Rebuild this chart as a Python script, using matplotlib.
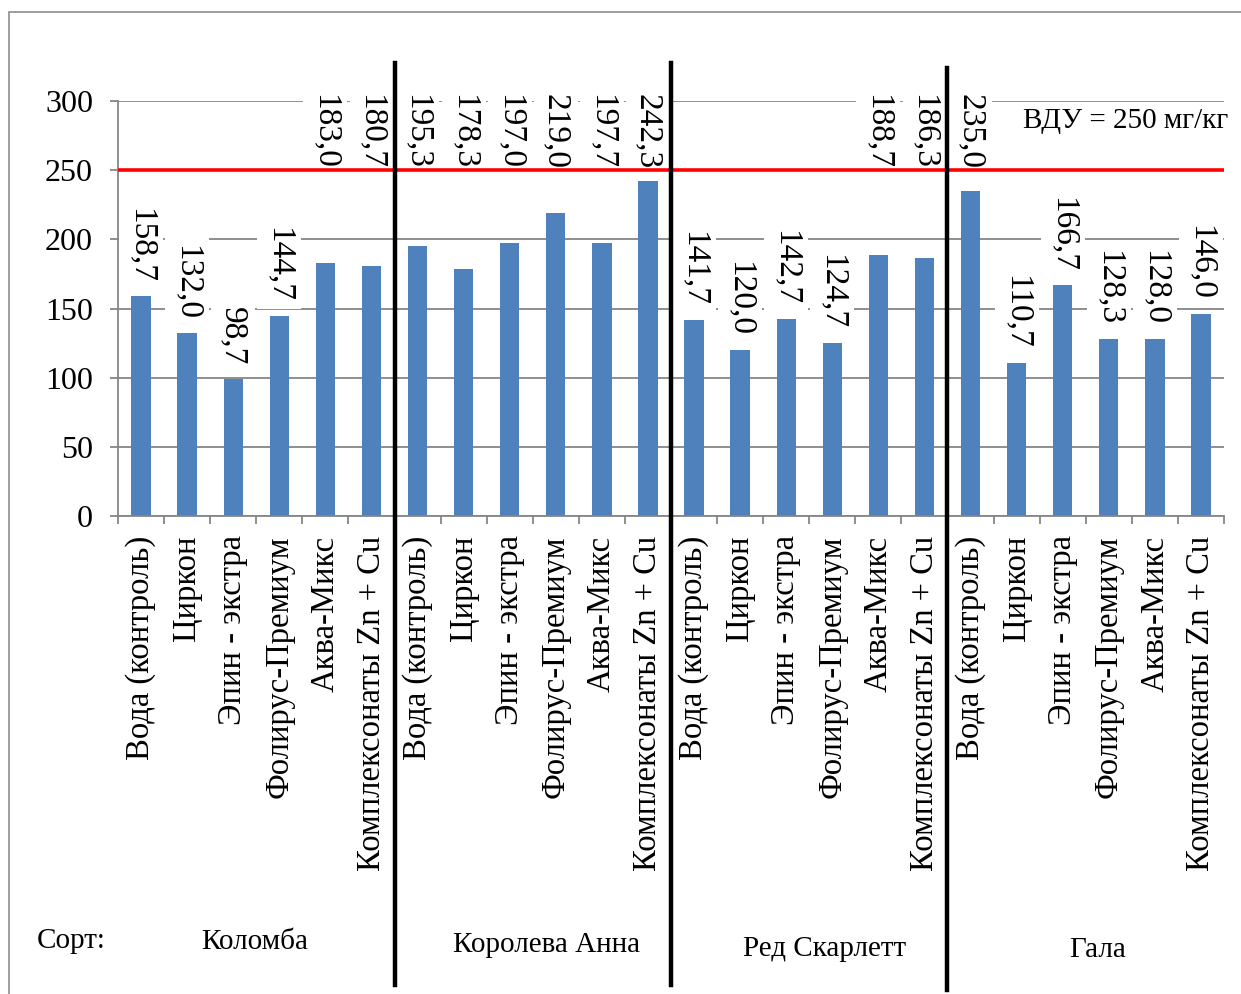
import matplotlib
matplotlib.use("Agg")
import matplotlib.pyplot as plt
import numpy as np
from matplotlib.lines import Line2D
from matplotlib.patches import Rectangle
from matplotlib.transforms import blended_transform_factory

plt.rcParams["font.family"] = ["Liberation Serif", "DejaVu Serif"]

# Treatments (repeated for every variety)
treatments = ["Вода (контроль)", "Циркон", "Эпин - экстра",
              "Фолирус-Премиум", "Аква-Микс", "Комплексонаты Zn + Cu"]
varieties = ["Коломба", "Королева Анна", "Ред Скарлетт", "Гала"]
variety_caption = "Сорт:"

# Nitrate content, mg/kg
kolomba = [158.7, 132.0, 98.7, 144.7, 183.0, 180.7]
koroleva_anna = [195.3, 178.3, 197.0, 219.0, 197.7, 242.3]
red_scarlett = [141.7, 120.0, 142.7, 124.7, 188.7, 186.3]
gala = [235.0, 110.7, 166.7, 128.3, 128.0, 146.0]

limit_value = 250
limit_label = "ВДУ = 250 мг/кг"
y_ticks = [0, 50, 100, 150, 200, 250, 300]

W, H = 1241, 994
fig = plt.figure(figsize=(W / 100, H / 100), dpi=100)
fig.patch.set_facecolor("white")


def fx(px):
    return px / W


def fy(py):
    return 1 - py / H


ax = fig.add_axes([fx(118), fy(516), fx(1224) - fx(118), (516 - 101) / H])

values = kolomba + koroleva_anna + red_scarlett + gala
labels = treatments * len(varieties)
x = np.arange(len(values))

grid_col = "#868686"
ax.bar(x, values, width=0.42, color="#4F81BD", zorder=2)
ax.set_xlim(-0.5, len(values) - 0.5)
ax.set_ylim(0, 300)
ax.set_yticks(y_ticks)
ax.yaxis.grid(True, color=grid_col, lw=1.3)
ax.set_axisbelow(True)
for side in ("top", "right"):
    ax.spines[side].set_visible(False)
for side in ("left", "bottom"):
    ax.spines[side].set_color(grid_col)
    ax.spines[side].set_linewidth(1.3)

ax.set_xticks(x)
ax.set_xticklabels(labels, rotation=90, fontsize=23.5)
ax.set_xticks(np.arange(-0.5, len(values), 1), minor=True)
ax.tick_params(axis="x", which="major", length=0, pad=14)
ax.tick_params(axis="x", which="minor", length=6, color=grid_col, width=1.3)
ax.tick_params(axis="y", length=6, color=grid_col, width=1.3, pad=12,
               labelsize=23)

# Value labels: tall bars get their label pinned to the top of the plot
for xi, v in zip(x, values):
    s = f"{v:.1f}".replace(".", ",")
    box = dict(boxstyle="square,pad=0.2", fc="white", ec="none")
    if v > 170:
        ax.annotate(s, (xi, 300), xytext=(0, 5), textcoords="offset points",
                    rotation=270, ha="center", va="top", fontsize=24,
                    bbox=box, zorder=3, annotation_clip=False)
    else:
        ax.annotate(s, (xi, v), xytext=(0, 10), textcoords="offset points",
                    rotation=270, ha="center", va="bottom", fontsize=24,
                    bbox=box, zorder=3, annotation_clip=False)

# Permissible level line
ax.axhline(limit_value, color="#FF0000", lw=2.6, zorder=4)
fig.text(fx(1228), fy(121), limit_label, ha="right", va="center", fontsize=21)

# Variety separators
trans = blended_transform_factory(ax.transData, fig.transFigure)
sep_x = [5.5, 11.5, 17.5]
sep_y = [(63, 985), (63, 985), (68, 990)]
for xb, (y0, y1) in zip(sep_x, sep_y):
    fig.add_artist(Line2D([xb, xb], [fy(y1), fy(y0)], transform=trans,
                          color="black", lw=3.2, zorder=5))

# Variety names
fig.text(fx(71), fy(941), variety_caption, ha="center", va="center",
         fontsize=21)
group_pos = [(255, 942), (547, 945), (825, 949), (1098, 950)]
for name, (gx, gy) in zip(varieties, group_pos):
    fig.text(fx(gx), fy(gy), name, ha="center", va="center", fontsize=21)

# Chart border
fig.add_artist(Rectangle((fx(9), fy(1010)), fx(1260) - fx(9),
                         fy(12) - fy(1010), transform=fig.transFigure,
                         fill=False, ec="#8c8c8c", lw=1.2))

fig.savefig("out.png", dpi=100)
